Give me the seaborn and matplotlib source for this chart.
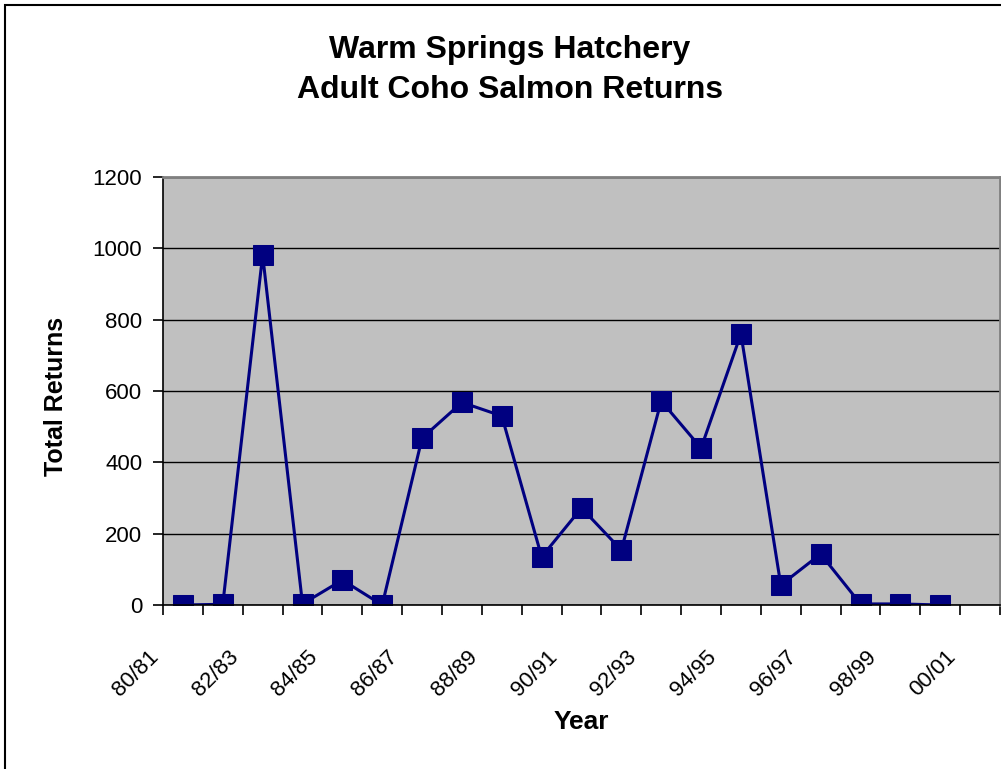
import numpy as np
import pandas as pd
import matplotlib
matplotlib.use("Agg")
import matplotlib.pyplot as plt
import matplotlib.transforms as mtransforms
import seaborn as sns
from matplotlib.patches import Rectangle

# adult coho returns by run year
seasons = ['80/81', '81/82', '82/83', '83/84', '84/85', '85/86', '86/87', '87/88',
           '88/89', '89/90', '90/91', '91/92', '92/93', '93/94', '94/95', '95/96',
           '96/97', '97/98', '98/99', '99/00', '00/01']
returns = [0, 2, 981, 3, 70, 0, 468, 568, 530, 135, 272, 154, 572, 440, 760,
           56, 143, 3, 3, 0, np.nan]
yticks = [0, 200, 400, 600, 800, 1000, 1200]

df = pd.DataFrame({'pos': np.arange(len(seasons)), 'season': seasons, 'returns': returns})

sns.set_style('white')
plt.rcParams['font.family'] = ['Liberation Sans', 'DejaVu Sans']
plt.rcParams.update({'text.color': 'black', 'axes.labelcolor': 'black',
                     'xtick.color': 'black', 'ytick.color': 'black'})

fig = plt.figure(figsize=(10.01, 7.69), dpi=100)
ax = fig.add_axes([163/1001, 1 - 605/769, (1000-163)/1001, (605-177)/769])
ax.set_facecolor('#c0c0c0')

sns.lineplot(data=df, x='pos', y='returns', ax=ax, color='#000080', linewidth=2.2,
             marker='s', markersize=14, markeredgecolor='#000080')

ax.set_xlim(-0.5, len(seasons) - 0.5)
ax.set_ylim(0, 1200)
ax.set_yticks(yticks)
ax.set_yticklabels([str(v) for v in yticks], fontsize=16)
ax.yaxis.grid(True, color='black', linewidth=1)
ax.set_axisbelow(True)

ax.set_xticks(df['pos'][::2])
ax.set_xticklabels(df['season'][::2], rotation=45, ha='right', rotation_mode='anchor', fontsize=16)
ax.set_xticks(np.arange(-0.5, len(seasons)), minor=True)
ax.tick_params(axis='x', which='major', length=0, pad=14)
ax.tick_params(axis='x', which='minor', length=7, width=1.2, color='black', bottom=True)
ax.tick_params(axis='y', length=7, width=1.2, color='black', left=True, pad=8)

# shift rotated year labels the way the original sits them
shift = mtransforms.ScaledTranslation(-0.35, -0.22, fig.dpi_scale_trans)
for lab in ax.get_xticklabels():
    lab.set_transform(lab.get_transform() + shift)

for side in ['top', 'right']:
    ax.spines[side].set_color('#808080')
    ax.spines[side].set_linewidth(2)
for side in ['left', 'bottom']:
    ax.spines[side].set_color('black')
    ax.spines[side].set_linewidth(1.2)

ax.set_xlabel('Year', fontsize=19, fontweight='bold')
ax.set_ylabel('Total Returns', fontsize=18, fontweight='bold')
ax.xaxis.set_label_coords(0.4994, -0.245)
ax.yaxis.set_label_coords(-0.113, 0.488)

fig.text(0.509, 1 - 58/769, 'Warm Springs Hatchery', ha='center', va='baseline',
         fontsize=23, fontweight='bold')
fig.text(0.510, 1 - 98/769, 'Adult Coho Salmon Returns', ha='center', va='baseline',
         fontsize=23, fontweight='bold')

fig.patches.append(Rectangle((5/1001, -0.01), 1.02, 1 - 5/769 + 0.01, transform=fig.transFigure,
                             fill=False, edgecolor='black', linewidth=1.5))

fig.savefig('out.png', dpi=100, facecolor='white')
